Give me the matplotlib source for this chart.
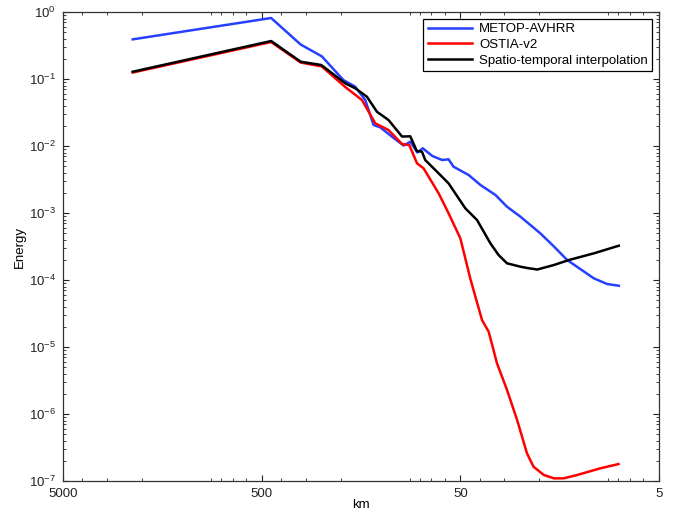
import matplotlib
matplotlib.use("Agg")
import matplotlib.pyplot as plt
from matplotlib.ticker import FixedLocator, FixedFormatter, LogLocator, NullFormatter

plt.rcParams['font.family'] = ['Liberation Sans', 'DejaVu Sans']
plt.rcParams['mathtext.fontset'] = 'custom'
plt.rcParams['mathtext.rm'] = 'Liberation Sans'
plt.rcParams['mathtext.default'] = 'regular'

# --- DADOS ---
km_metop = [2228, 448, 318, 249, 194, 169, 150.5, 136.7, 126.5, 110.4, 96.5, 89.3, 82.3,
            77.3, 69.2, 61.7, 57.3, 54.1, 45.4, 39.6, 33.3, 29.1, 24.9, 19.8, 17.0, 14.5,
            10.65, 9.12, 7.97]
en_metop = [0.391, 0.814, 0.327, 0.218, 0.0966, 0.0767, 0.0486, 0.0206, 0.019, 0.01377,
            0.01017, 0.01159, 0.0080, 0.00924, 0.0071, 0.00618, 0.00633, 0.00491, 0.00369,
            0.00262, 0.00186, 0.00124, 0.00088, 0.000498, 0.000322, 0.000199, 0.000106,
            8.71e-5, 8.22e-5]

km_ostia = [2228, 448, 318, 249, 189.8, 156.4, 134.0, 114.9, 98.3, 90.4, 82.6, 76.6, 64.3,
            57.3, 50.0, 44.5, 38.9, 36.0, 32.7, 29.1, 25.9, 23.1, 21.4, 19.0, 16.9, 15.1,
            12.9, 9.85, 8.0]
en_ostia = [0.125, 0.357, 0.176, 0.154, 0.076, 0.0486, 0.0218, 0.01733, 0.0107, 0.01035,
            0.00552, 0.00465, 0.00197, 0.00099, 0.000419, 0.0001035, 2.53e-5, 1.69e-5,
            5.71e-6, 2.28e-6, 8.14e-7, 2.59e-7, 1.63e-7, 1.23e-7, 1.096e-7, 1.096e-7,
            1.23e-7, 1.55e-7, 1.79e-7]

km_interp = [2228, 448, 318, 250.7, 189.8, 169, 147.6, 131.5, 114.9, 98.3, 89.3, 82.8, 78.0,
             75.1, 64.3, 57.3, 47.2, 41.2, 35.3, 32.1, 29.1, 24.9, 23.0, 20.5, 16.9, 14.2,
             10.65, 7.97]
en_interp = [0.1285, 0.369, 0.181, 0.162, 0.0863, 0.0727, 0.0544, 0.0325, 0.0244, 0.01386,
             0.01395, 0.00842, 0.00822, 0.00618, 0.00391, 0.00277, 0.001175, 0.000786,
             0.000353, 0.000236, 0.0001775, 0.000158, 0.000151, 0.0001435, 0.0001675,
             0.000199, 0.00025, 0.000325]

rotulos = ['METOP-AVHRR', 'OSTIA-v2', 'Spatio-temporal interpolation']
xticks_km = [5000, 500, 50, 5]

# --- GRAFICO ---
fig = plt.figure(figsize=(6.89, 5.18), dpi=100)
ax = fig.add_axes([0.0914, 0.0714, 0.8651, 0.9054])

ax.loglog(km_metop, en_metop, color=(0.15, 0.25, 1.0), lw=1.8, label=rotulos[0])
ax.loglog(km_ostia, en_ostia, color='red', lw=1.8, label=rotulos[1])
ax.loglog(km_interp, en_interp, color='black', lw=1.8, label=rotulos[2])

ax.set_xlim(5000, 5)
ax.set_ylim(1e-7, 1)

ax.xaxis.set_major_locator(FixedLocator(xticks_km))
ax.xaxis.set_major_formatter(FixedFormatter([str(v) for v in xticks_km]))
ax.xaxis.set_minor_locator(LogLocator(base=10, subs=range(2, 10), numticks=20))
ax.xaxis.set_minor_formatter(NullFormatter())
ax.yaxis.set_major_locator(LogLocator(base=10, numticks=20))
ax.yaxis.set_minor_locator(LogLocator(base=10, subs=range(2, 10), numticks=20))
ax.yaxis.set_minor_formatter(NullFormatter())

ax.tick_params(which='both', direction='in', top=True, right=True, labelsize=9.5,
               colors='#222222')
ax.tick_params(which='major', length=4.5, width=0.8)
ax.tick_params(which='minor', length=2.5, width=0.6)
ax.tick_params(axis='x', which='major', pad=5)
ax.tick_params(axis='y', which='major', pad=5)
for s in ax.spines.values():
    s.set_linewidth(0.9)
    s.set_color('#333333')

ax.set_xlabel('km', fontsize=9.5, labelpad=-1)
ax.set_ylabel('Energy', fontsize=9.5, labelpad=2)

leg = ax.legend(loc='upper right', fontsize=9.5, fancybox=False, framealpha=1,
                edgecolor='black', borderaxespad=0.5, handlelength=3.4,
                handletextpad=0.5, borderpad=0.35, labelspacing=0.25)
leg.get_frame().set_linewidth(0.9)

fig.savefig('out.png', dpi=100)
